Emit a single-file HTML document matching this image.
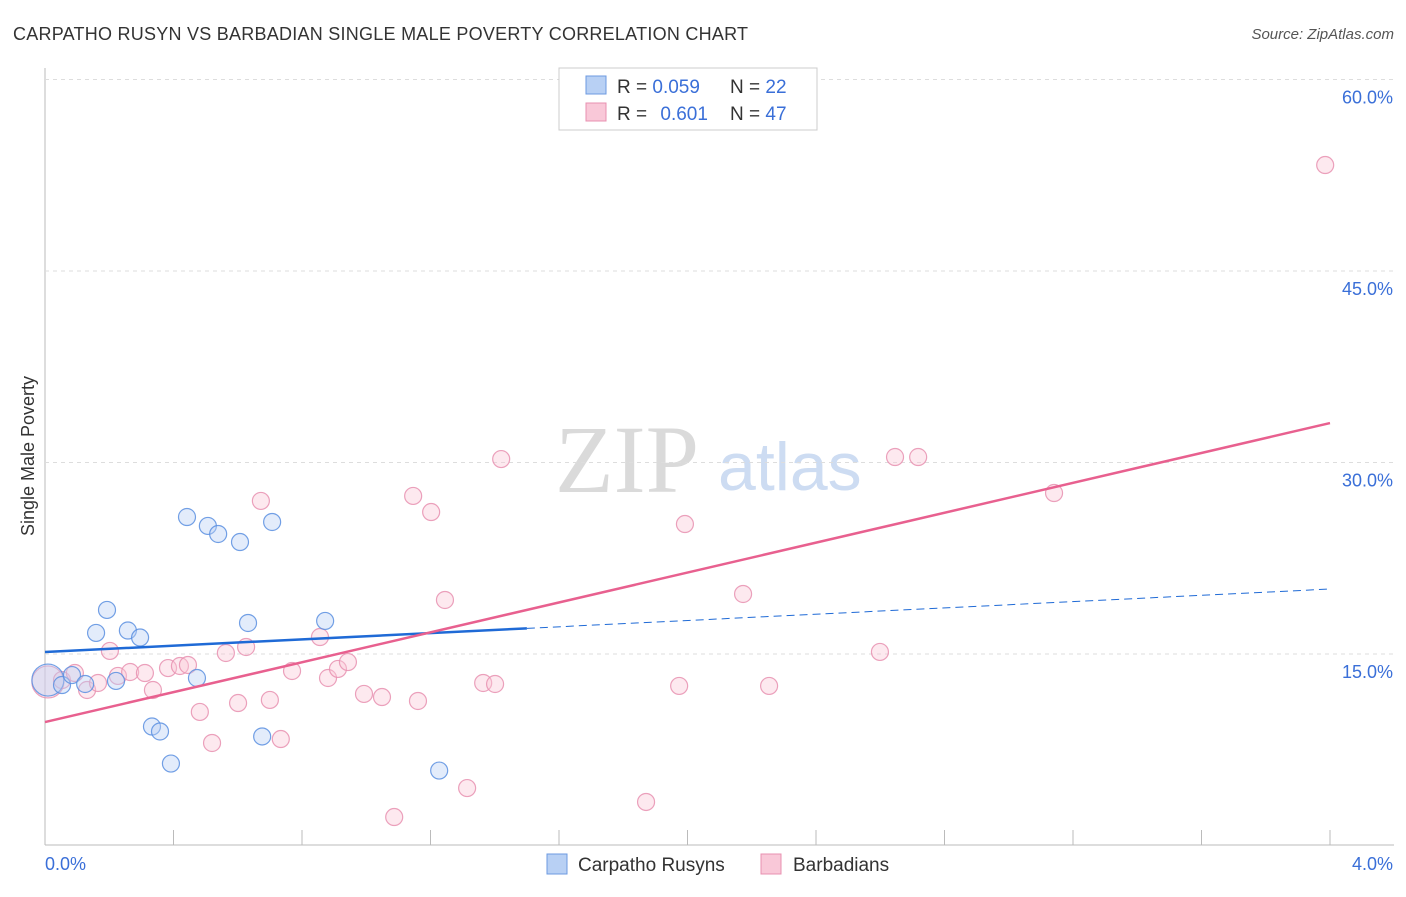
<!DOCTYPE html>
<html><head><meta charset="utf-8"><style>
body{margin:0;background:#fff;font-family:"Liberation Sans",sans-serif}
svg text{font-family:"Liberation Sans",sans-serif}
</style></head><body>
<svg id="c" width="1406" height="892">
<text x="13" y="40" font-size="18" fill="#333" textLength="735">CARPATHO RUSYN VS BARBADIAN SINGLE MALE POVERTY CORRELATION CHART</text>
<text x="1394" y="39" font-size="15" fill="#555" font-style="italic" text-anchor="end">Source: ZipAtlas.com</text>
<text x="34" y="456" font-size="18" fill="#333" text-anchor="middle" transform="rotate(-90 34 456)">Single Male Poverty</text>
<text x="555" y="492" font-size="96" fill="#dadada" style="font-family:'Liberation Serif',serif">ZIP</text>
<text x="718" y="490" font-size="68" fill="#cddcf2">atlas</text>
<g id="grid"></g><g id="marks"></g>
<g>
<rect x="559" y="68" width="258" height="62" fill="#fff" stroke="#ccc"/>
<rect x="586" y="76" width="20" height="18" fill="#b8d0f4" stroke="#6c9ae0"/>
<rect x="586" y="103" width="20" height="18" fill="#f9c8d8" stroke="#e890b0"/>
<text x="617" y="93" font-size="19" fill="#333">R = <tspan fill="#3a6fd8">0.059</tspan></text>
<text x="730" y="93" font-size="19" fill="#333">N = <tspan fill="#3a6fd8">22</tspan></text>
<text x="617" y="120" font-size="19" fill="#333">R = <tspan fill="#3a6fd8" dx="8">0.601</tspan></text>
<text x="730" y="120" font-size="19" fill="#333">N = <tspan fill="#3a6fd8">47</tspan></text>
</g>
<g>
<rect x="547" y="854" width="20" height="20" fill="#b8d0f4" stroke="#6c9ae0"/>
<text x="578" y="871" font-size="19" fill="#333">Carpatho Rusyns</text>
<rect x="761" y="854" width="20" height="20" fill="#f9c8d8" stroke="#e890b0"/>
<text x="793" y="871" font-size="19" fill="#333">Barbadians</text>
</g>
</svg>
<script>
const yTicks=[15,30,45,60];
const xTickLabels=["0.0%","4.0%"];
const blueX=[0.009,0.053,0.084,0.125,0.159,0.193,0.221,0.258,0.296,0.333,0.358,0.392,0.442,0.473,0.507,0.539,0.607,0.632,0.676,0.707,0.872,1.227];
const blueY=[12.96,12.57,13.35,12.65,16.65,18.45,12.89,16.84,16.29,9.32,8.93,6.42,25.73,13.12,25.03,24.40,23.77,17.43,8.54,25.34,17.59,5.87];
const pinkX=[0.009,0.053,0.093,0.131,0.165,0.202,0.227,0.265,0.311,0.336,0.383,0.420,0.445,0.482,0.520,0.563,0.601,0.626,0.672,0.700,0.734,0.769,0.856,0.881,0.912,0.943,0.993,1.049,1.087,1.146,1.161,1.202,1.245,1.314,1.364,1.401,1.420,1.871,1.974,1.992,2.173,2.254,2.599,2.646,2.718,3.141,3.985];
const pinkY=[12.81,12.96,13.51,12.18,12.73,15.24,13.28,13.59,13.51,12.18,13.90,14.06,14.14,10.46,8.03,15.08,11.16,15.55,26.99,11.40,8.34,13.67,16.33,13.12,13.83,14.37,11.87,11.63,2.23,27.38,11.32,26.12,19.23,4.50,12.73,12.65,30.27,3.41,12.50,25.18,19.70,12.50,15.16,30.43,30.43,27.61,53.30];
const blueTrend=[15.16,20.09];
const pinkTrend=[9.67,33.09];
const X=v=>45+v/4*1285, Y=v=>845.5-v/15*191.5;
const NS="http://www.w3.org/2000/svg";
function mk(t,a,p){const e=document.createElementNS(NS,t);for(const k in a)e.setAttribute(k,a[k]);p.appendChild(e);return e;}
const g=document.getElementById('grid'),m=document.getElementById('marks');
mk('line',{x1:45,y1:68,x2:45,y2:845,stroke:'#bbb'},g);
mk('line',{x1:45,y1:845,x2:1394,y2:845,stroke:'#bbb'},g);
for(let i=0;i<=10;i++){const l=mk('line',{x1:45+i*128.5,y1:830,x2:45+i*128.5,y2:845,stroke:'#bbb'},g);

}
yTicks.forEach(t=>{const l=mk('line',{x1:45,y1:Y(t),x2:1394,y2:Y(t),stroke:'#ddd','stroke-dasharray':'4,4'},g);


const tx=mk('text',{x:1393,y:Y(t)+24,'font-size':18,fill:'#3a6fd8','text-anchor':'end'},g);tx.textContent=t.toFixed(1)+'%';

});
[[45,'start'],[1393,'end']].forEach((p,i)=>{const tx=mk('text',{x:p[0],y:870,'font-size':18,fill:'#3a6fd8','text-anchor':p[1]},g);tx.textContent=xTickLabels[i];

});
function pts(xs,ys,fill,stroke,name){xs.forEach((x,i)=>{const c=mk('circle',{cx:X(x),cy:Y(ys[i]),r:i==0?16:8.5,fill:fill,'fill-opacity':0.4,stroke:stroke,'stroke-width':1.2,'stroke-opacity':0.85},m);

});}
pts(pinkX,pinkY,'#f9c8d8','#e890b0','barbadian-point');
pts(blueX,blueY,'#b8d0f4','#5b8fe0','rusyn-point');
const bAt=x=>blueTrend[0]+(blueTrend[1]-blueTrend[0])*x/4;
let l=mk('line',{x1:X(0),y1:Y(bAt(0)),x2:X(1.5),y2:Y(bAt(1.5)),stroke:'#1f6ad6','stroke-width':2.5},m);


l=mk('line',{x1:X(1.5),y1:Y(bAt(1.5)),x2:X(4),y2:Y(bAt(4)),stroke:'#1f6ad6','stroke-width':1,'stroke-dasharray':'8,5'},m);


l=mk('line',{x1:X(0),y1:Y(pinkTrend[0]),x2:X(4),y2:Y(pinkTrend[1]),stroke:'#e8608f','stroke-width':2.5},m);


</script>
</body></html>
